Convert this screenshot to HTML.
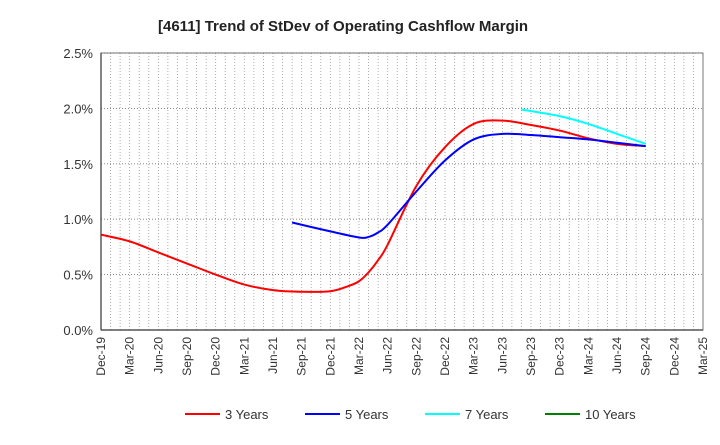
<!DOCTYPE html>
<html><head><meta charset="utf-8"><style>
body{margin:0;background:#fff;font-family:"Liberation Sans",sans-serif}
</style></head><body>
<svg id="c" width="720" height="440" xmlns="http://www.w3.org/2000/svg" font-family="Liberation Sans, sans-serif">
<text x="158" y="31" font-size="15" font-weight="bold" fill="#222">[4611]  Trend of StDev of Operating Cashflow Margin</text>
<g id="grid"></g><g id="axes"></g><g id="series"></g>
<g id="legend"></g>
</svg>
<script>
const xLabels=["Dec-19","Mar-20","Jun-20","Sep-20","Dec-20","Mar-21","Jun-21","Sep-21","Dec-21","Mar-22","Jun-22","Sep-22","Dec-22","Mar-23","Jun-23","Sep-23","Dec-23","Mar-24","Jun-24","Sep-24","Dec-24","Mar-25"];
const yTicks=[0,0.5,1.0,1.5,2.0,2.5];
// month offsets from Dec-19
const m3=[0,3,6,9,12,15,18,21,24,26,27,28,29,30,33,36,39,42,45,48,51,54,57];
const v3=[0.86,0.80,0.70,0.60,0.50,0.41,0.36,0.345,0.35,0.40,0.44,0.52,0.63,0.77,1.30,1.65,1.86,1.89,1.85,1.80,1.73,1.68,1.66];
const m5=[20,24,27,28,29,30,33,36,39,42,45,48,51,54,57];
const v5=[0.97,0.89,0.835,0.84,0.88,0.95,1.25,1.53,1.72,1.77,1.76,1.74,1.72,1.69,1.66];
const m7=[44,48,51,54,57];
const v7=[1.99,1.93,1.86,1.77,1.68];
const m10=[];const v10=[];
const L=101,R=703,T=53,B=330;
const X=m=>L+m*(R-L)/63, Y=v=>B-v/2.5*(B-T);
const NS="http://www.w3.org/2000/svg";
function mk(p,t,a){const e=document.createElementNS(NS,t);for(const k in a)e.setAttribute(k,a[k]);p.appendChild(e);return e;}
const g=document.getElementById('grid'),ax=document.getElementById('axes'),s=document.getElementById('series'),lg=document.getElementById('legend');
for(let m=1;m<63;m++){const l=mk(g,'line',{x1:X(m),x2:X(m),y1:T,y2:B,stroke:'#999','stroke-dasharray':'1,2','stroke-width':0.8});

}
yTicks.forEach(v=>{if(v>0){const l=mk(g,'line',{x1:L,x2:R,y1:Y(v),y2:Y(v),stroke:'#777','stroke-dasharray':'1,2','stroke-width':0.9});

}
const t=mk(ax,'text',{x:L-8,y:Y(v)+5,'text-anchor':'end','font-size':13,fill:'#333'});t.textContent=v.toFixed(1)+'%';

});
const fr=mk(ax,'rect',{x:L,y:T,width:R-L,height:B-T,fill:'none',stroke:'#555','stroke-width':0.8});


mk(ax,'line',{x1:L,x2:R,y1:B,y2:B,stroke:'#333','stroke-width':1.2});
mk(ax,'line',{x1:L,x2:L,y1:T,y2:B,stroke:'#333','stroke-width':1.2});
xLabels.forEach((lab,i)=>{const x=X(i*3);const t=mk(ax,'text',{x:0,y:0,'text-anchor':'end','font-size':12,fill:'#333',transform:`translate(${x+4},${B+7}) rotate(-90)`});t.textContent=lab;

});
function path(ms,vs){if(!ms.length)return'';const p=ms.map((m,i)=>[X(m),Y(vs[i])]);let d=`M${p[0][0]},${p[0][1]}`;
for(let i=0;i<p.length-1;i++){const p0=p[Math.max(0,i-1)],p1=p[i],p2=p[i+1],p3=p[Math.min(p.length-1,i+2)];
d+=` C${p1[0]+(p2[0]-p0[0])/6},${p1[1]+(p2[1]-p0[1])/6} ${p2[0]-(p3[0]-p1[0])/6},${p2[1]-(p3[1]-p1[1])/6} ${p2[0]},${p2[1]}`;}return d;}
const ser=[[m3,v3,'#ff0000','3 Years','series-3-years'],[m5,v5,'#0000ff','5 Years','series-5-years'],[m7,v7,'#00ffff','7 Years','series-7-years'],[m10,v10,'#008000','10 Years','series-10-years']];
ser.forEach(([ms,vs,c,n,dn],i)=>{if(ms.length){const p=mk(s,'path',{d:path(ms,vs),fill:'none',stroke:c,'stroke-width':2});

}
const lx=185+i*120;const ln=mk(lg,'line',{x1:lx,x2:lx+35,y1:414,y2:414,stroke:c,'stroke-width':2});


const t=mk(lg,'text',{x:lx+40,y:419,'font-size':13,fill:'#333'});t.textContent=n;

});
</script>
</body></html>
